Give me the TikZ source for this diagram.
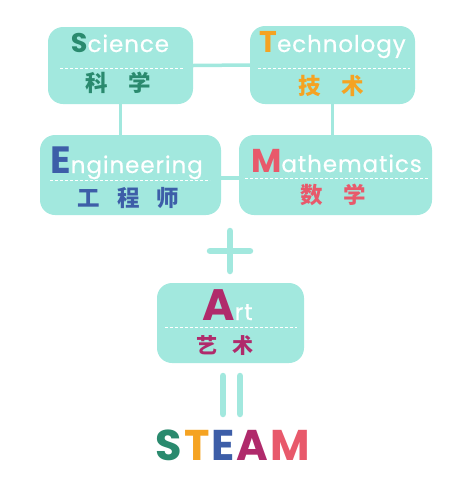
\documentclass[tikz,border=0pt]{standalone}
\usepackage{fontspec}
\setmainfont{Poppins}
\newfontfamily\engfont[LetterSpace=4,FakeBold=0.6]{Poppins}
\newfontfamily\capfont{Poppins}
\newfontfamily\cjk{Noto Sans CJK SC}
\usetikzlibrary{calc}
\definecolor{boxfill}{HTML}{A2E8DE}
\definecolor{cS}{HTML}{2A8A6E}
\definecolor{cT}{HTML}{F5A322}
\definecolor{cE}{HTML}{3D5EA8}
\definecolor{cM}{HTML}{E8596B}
\definecolor{cA}{HTML}{B02A6B}
\newcommand\Initial[3]{{\capfont\bfseries\fontsize{#2}{#2}\selectfont\color{#1}#3}}
\newcommand\Rest[1]{{\engfont\fontsize{23}{23}\selectfont\color{white}#1}}
\newcommand\Zh[3]{{\cjk\bfseries\fontsize{#2}{#2}\selectfont\color{#1}#3}}
\begin{document}
\begin{tikzpicture}[x=1pt,y=-1pt,
  box/.style={fill=boxfill, rounded corners=15pt, inner sep=0pt},
  link/.style={draw=boxfill, line width=3.5pt},
  sign/.style={draw=boxfill, line width=6.5pt, line cap=round},
  dashline/.style={draw=white, line width=0.9pt, dash pattern=on 3pt off 2pt},
  eng/.style={anchor=base, inner sep=0pt},
  zh/.style={anchor=center, inner sep=0pt}]
\useasboundingbox (0,0) rectangle (472,491);
% boxes
\node[box, minimum width=145pt, minimum height=77pt] (S) at (120.5,65.5) {};
\node[box, minimum width=165pt, minimum height=78pt] (T) at (332.5,65) {};
\node[box, minimum width=181pt, minimum height=80pt] (E) at (130.5,175) {};
\node[box, minimum width=193pt, minimum height=80pt] (M) at (335.5,175) {};
\node[box, minimum width=147pt, minimum height=80pt] (A) at (230.5,323) {};
% connectors
\draw[link] (S.east) -- (T.west);
\draw[link] (S.south) -- (S.south |- E.north);
\draw[link] (T.south) -- (T.south |- M.north);
\draw[link] ([yshift=-3pt]E.east) -- ([yshift=-3pt]M.west);
% dashed separators
\draw[dashline] (60,68) -- (183,68);
\draw[dashline] (258,68) -- (410,68);
\draw[dashline] (50,180) -- (210,180);
\draw[dashline] (245,178) -- (428,178);
\draw[dashline] (165,327) -- (297,327);
% english
\node[eng] (Sen) at (120,52) {\Initial{cS}{27}{S}\Rest{cience}};
\node[eng] (Ten) at (332.5,52) {\Initial{cT}{30}{T}\Rest{echnology}};
\node[eng] (Een) at (126.5,173) {\Initial{cE}{38}{E}\Rest{ngineering}};
\node[eng] (Men) at (336.5,172) {\Initial{cM}{33}{M}\Rest{athematics}};
\node[eng] (Aen) at (227.5,320) {\Initial{cA}{44}{A}\Rest{rt}};
% chinese
\node[zh] (Szh) at (118.5,83) {\Zh{cS}{22.5}{科\hspace{21pt}学}};
\node[zh] (Tzh) at (331,86) {\Zh{cT}{22.5}{技\hspace{21pt}术}};
\node[zh] (Ezh) at (128.5,198) {\Zh{cE}{22.5}{工\hspace{17pt}程\hspace{17pt}师}};
\node[zh] (Mzh) at (333.5,195) {\Zh{cM}{22.5}{数\hspace{21pt}学}};
\node[zh] (Azh) at (225,346) {\Zh{cA}{21}{艺\hspace{15pt}术}};
% plus and equals
\coordinate (p1) at (230,231); \coordinate (p2) at (230,271);
\coordinate (p3) at (210,251); \coordinate (p4) at (250,251);
\draw[sign] (p1) -- (p2);
\draw[sign] (p3) -- (p4);
\coordinate (e1) at (223,376); \coordinate (e2) at (223,414);
\coordinate (e3) at (240,376); \coordinate (e4) at (240,414);
\draw[sign] (e1) -- (e2);
\draw[sign] (e3) -- (e4);
% STEAM
\node[eng] (steam) at (233,460) {\capfont\bfseries\fontsize{43}{43}\selectfont
  \color{cS}S\hspace{2pt}\color{cT}T\hspace{2pt}\color{cE}E\hspace{2pt}\color{cA}A\hspace{2pt}\color{cM}M};
\end{tikzpicture}
\end{document}
